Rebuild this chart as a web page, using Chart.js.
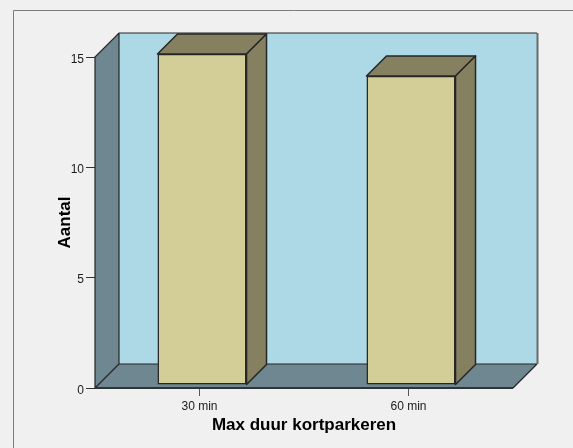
<!DOCTYPE html>
<html>
<head>
<meta charset="utf-8">
<script src="https://cdn.jsdelivr.net/npm/chart.js@4/dist/chart.umd.min.js"></script>
<style>
  html, body { margin: 0; padding: 0; background: #f0f0f0; }
  canvas { display: block; }
</style>
</head>
<body>
<canvas id="chart" width="573" height="448"></canvas>
<script>
// Frequencies of the maximum short-stay parking duration
const categories = ['30 min', '60 min'];
const counts = [15, 14];
const yMin = 0;
const yMax = 15;
const yStep = 5;

const FONT = '"Liberation Sans", Arial, sans-serif';
const WALL_DEPTH = 24;     // depth of the side wall / floor / back wall
const BAR_DEPTH = 20;      // depth of each bar box
const BAR_SHIFT = { x: 2.5, y: -3 };  // bars stand slightly back from the front edge

const COLORS = {
  page: '#f0f0f0',
  frame: '#7c7c7c',
  backWall: '#add8e6',
  sideWall: '#6e8790',
  edge: '#262626',
  barFront: '#d3ce97',
  barShade: '#858060'
};

// Page background, outer frame and the 3D box (side wall, floor, back wall)
const boxPlugin = {
  id: 'box3d',
  beforeDraw(chart) {
    const { ctx, width, height } = chart;
    ctx.save();
    ctx.fillStyle = COLORS.page;
    ctx.fillRect(0, 0, width, height);
    ctx.strokeStyle = COLORS.frame;
    ctx.lineWidth = 1;
    ctx.beginPath();
    ctx.moveTo(13.5, height);
    ctx.lineTo(13.5, 10.5);
    ctx.lineTo(width, 10.5);
    ctx.stroke();
    ctx.restore();
  },
  beforeDatasetsDraw(chart) {
    const { ctx, scales } = chart;
    const L = chart.chartArea.left;
    const R = chart.chartArea.right;
    const T = scales.y.getPixelForValue(yMax);
    const B = scales.y.getPixelForValue(yMin);
    const d = WALL_DEPTH;
    ctx.save();
    // back wall
    ctx.fillStyle = COLORS.backWall;
    ctx.fillRect(L + d, T - d, R - L, B - T);
    // left wall
    ctx.fillStyle = COLORS.sideWall;
    ctx.beginPath();
    ctx.moveTo(L, T); ctx.lineTo(L + d, T - d); ctx.lineTo(L + d, B - d); ctx.lineTo(L, B);
    ctx.closePath(); ctx.fill();
    // floor
    ctx.beginPath();
    ctx.moveTo(L, B); ctx.lineTo(L + d, B - d); ctx.lineTo(R + d, B - d); ctx.lineTo(R, B);
    ctx.closePath(); ctx.fill();

    // edges
    ctx.strokeStyle = COLORS.edge;
    ctx.lineWidth = 1.2;
    ctx.beginPath();
    ctx.moveTo(L, B); ctx.lineTo(L, T); ctx.lineTo(L + d, T - d); ctx.lineTo(R + d, T - d);
    ctx.moveTo(L + d, T - d); ctx.lineTo(L + d, B - d); ctx.lineTo(R + d, B - d);
    ctx.moveTo(L, B); ctx.lineTo(L + d, B - d);
    ctx.moveTo(R, B); ctx.lineTo(R + d, B - d);
    ctx.stroke();
    // right edge of back wall
    ctx.strokeStyle = '#6a6a6a';
    ctx.lineWidth = 2;
    ctx.beginPath();
    ctx.moveTo(R + d + 0.5, T - d); ctx.lineTo(R + d + 0.5, B - d);
    ctx.stroke();
    // front edge of floor
    ctx.strokeStyle = '#2e3436';
    ctx.lineWidth = 2.2;
    ctx.beginPath();
    ctx.moveTo(L, B); ctx.lineTo(R, B);
    ctx.stroke();
    ctx.restore();
  },
  beforeDatasetDraw(chart) {
    chart.ctx.save();
    chart.ctx.translate(BAR_SHIFT.x, BAR_SHIFT.y);
  },
  afterDatasetDraw(chart, args) {
    const { ctx } = chart;
    const d = BAR_DEPTH;
    args.meta.data.forEach((bar) => {
      const p = bar.getProps(['x', 'y', 'base', 'width'], true);
      const l = p.x - p.width / 2;
      const r = p.x + p.width / 2;
      const t = Math.min(p.y, p.base);
      const b = Math.max(p.y, p.base);
      ctx.fillStyle = COLORS.barShade;
      ctx.strokeStyle = COLORS.edge;
      ctx.lineWidth = 1.5;
      ctx.lineJoin = 'round';
      // top face
      ctx.beginPath();
      ctx.moveTo(l, t); ctx.lineTo(l + d, t - d); ctx.lineTo(r + d, t - d); ctx.lineTo(r, t);
      ctx.closePath(); ctx.fill(); ctx.stroke();
      // side face
      ctx.beginPath();
      ctx.moveTo(r, t); ctx.lineTo(r + d, t - d); ctx.lineTo(r + d, b - d); ctx.lineTo(r, b);
      ctx.closePath(); ctx.fill(); ctx.stroke();
    });
    ctx.restore();
  }
};

new Chart(document.getElementById('chart'), {
  type: 'bar',
  data: {
    labels: categories,
    datasets: [{
      label: 'Aantal',
      data: counts,
      backgroundColor: COLORS.barFront,
      borderColor: COLORS.edge,
      borderWidth: 1.5,
      borderSkipped: false,
      categoryPercentage: 1,
      barPercentage: 0.426
    }]
  },
  options: {
    responsive: false,
    animation: false,
    devicePixelRatio: 1,
    layout: { padding: { left: 0, top: 57, right: 60, bottom: 0 } },
    plugins: {
      legend: { display: false },
      tooltip: { enabled: false }
    },
    scales: {
      x: {
        afterFit(scale) { scale.height = 60; },
        grid: {
          offset: false,
          drawOnChartArea: false,
          drawTicks: true,
          tickLength: 8,
          color: '#555',
          lineWidth: 1
        },
        border: { display: false },
        ticks: {
          color: '#1a1a1a',
          font: { family: FONT, size: 12 },
          padding: 3,
          maxRotation: 0
        },
        title: {
          display: true,
          text: 'Max duur kortparkeren',
          color: '#000',
          font: { family: FONT, size: 17, weight: 'bold' },
          padding: { top: 0, bottom: 12 }
        }
      },
      y: {
        min: yMin,
        max: yMax,
        afterFit(scale) { scale.width = 95; },
        grid: {
          drawOnChartArea: false,
          drawTicks: true,
          tickLength: 9,
          color: '#333',
          lineWidth: 1
        },
        border: { display: false },
        ticks: {
          stepSize: yStep,
          color: '#1a1a1a',
          font: { family: FONT, size: 12 },
          padding: 2,
          labelOffset: 2.5
        },
        title: {
          display: true,
          text: 'Aantal',
          color: '#000',
          font: { family: FONT, size: 17, weight: 'bold' },
          padding: { top: 55, bottom: 0 }
        }
      }
    }
  },
  plugins: [boxPlugin]
});
</script>
</body>
</html>
